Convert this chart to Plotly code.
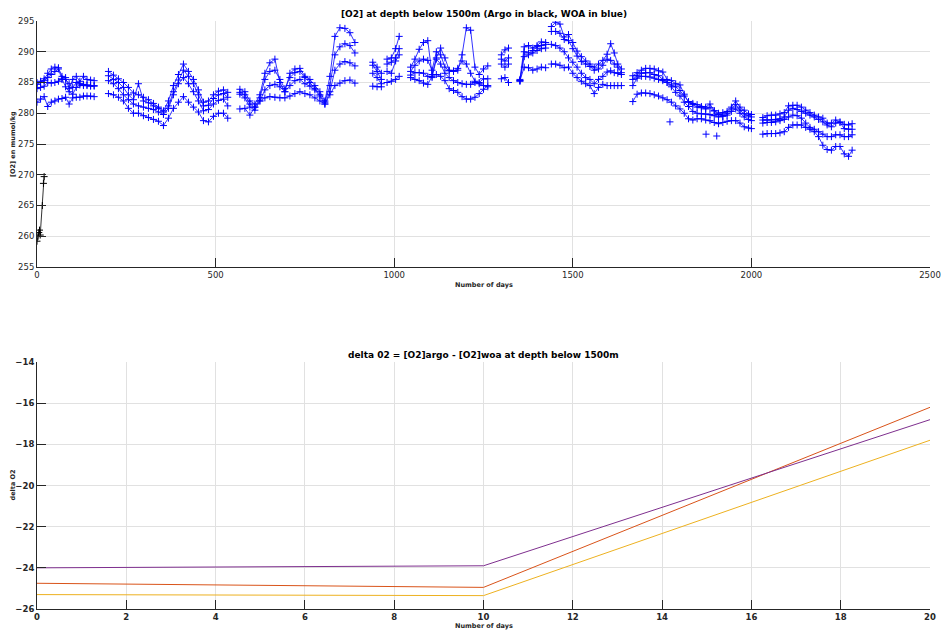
import plotly.graph_objects as go

# ---------------- Top panel data (days, O2 in umol/kg) ----------------
# WOA series (4 depth levels), given as segments separated by gaps
SEG_DAYS = [
    [0, 10, 20, 30, 40, 50, 60, 70, 80, 90, 100, 110, 120, 130, 140, 150, 160],
    [200, 214, 228, 242, 256, 270, 284, 298, 312, 326, 340, 354, 368, 382, 396, 410, 424, 438, 452, 466, 480, 494, 508, 522, 534],
    [568, 582, 596, 610, 624, 638, 652, 666, 680, 694, 708, 722, 736, 750, 764, 778, 792, 806, 820, 834, 848, 862, 876, 890],
    [940, 952, 964],
    [980, 992, 1004, 1014],
    [1046, 1058, 1070, 1082, 1094, 1106, 1118, 1130, 1142, 1154, 1166, 1178, 1190, 1202, 1214, 1226, 1238, 1250, 1262],
    [1300, 1310, 1320],
    [1352, 1364, 1376, 1388, 1400, 1412, 1424],
    [1440, 1452, 1464, 1476, 1488, 1500, 1512, 1524, 1536, 1548, 1560, 1572, 1584, 1596, 1606, 1616, 1626, 1636],
    [1668, 1680, 1692, 1704, 1716, 1728, 1740, 1752, 1764, 1776, 1788, 1800, 1812, 1824, 1836, 1848, 1860, 1872, 1884, 1896, 1908, 1920, 1932, 1944, 1956, 1968, 1980, 1992, 2000],
    [2032, 2044, 2056, 2068, 2080, 2092, 2104, 2116, 2128, 2140, 2152, 2164, 2176, 2188, 2200, 2212, 2224, 2236, 2248, 2260, 2272, 2282],
]

WOA_A = [
    [284.7, 285.0, 285.6, 286.5, 287.2, 287.5, 287.4, 286.0, 285.8, 284.0, 285.5, 286.0, 285.2, 286.0, 285.5, 285.4, 285.3],
    [286.8, 286.2, 285.6, 285.0, 284.2, 283.3, 283.0, 282.6, 282.2, 281.6, 281.0, 280.4, 282.0, 284.5, 286.3, 288.0, 286.8, 285.5, 283.8, 281.8, 282.0, 283.0, 283.6, 283.8, 283.4],
    [283.9, 283.5, 282.0, 281.5, 283.0, 286.5, 288.2, 288.8, 285.0, 283.5, 286.5, 287.2, 287.3, 286.0, 285.5, 284.5, 283.5, 282.0, 286.0, 292.5, 293.9, 293.8, 293.1, 291.5],
    [288.3, 287.5, 286.5],
    [288.8, 289.0, 290.5, 292.5],
    [287.5, 288.8, 290.4, 291.5, 291.8, 286.3, 289.0, 290.6, 289.0, 287.0, 286.9, 287.0, 289.5, 293.9, 293.5, 287.5, 286.3, 287.2, 287.7],
    [289.5, 290.3, 290.6],
    [285.5, 290.8, 291.0, 290.6, 291.0, 291.6, 291.5],
    [294.1, 294.8, 294.5, 292.4, 292.8, 291.5, 290.1, 289.2, 288.5, 288.0, 287.5, 288.0, 288.6, 289.6, 291.3, 289.8, 288.0, 287.2],
    [286.1, 286.6, 287.0, 287.3, 287.3, 287.2, 286.9, 286.7, 285.5, 285.3, 284.8, 284.6, 283.1, 281.8, 281.6, 281.4, 281.1, 281.0, 281.5, 280.4, 280.0, 280.1, 280.3, 281.0, 282.0, 281.0, 280.5, 279.9, 279.8],
    [279.3, 279.6, 279.7, 279.7, 279.9, 280.1, 281.2, 281.3, 281.3, 281.0, 280.5, 280.1, 279.7, 279.4, 279.2, 278.4, 278.4, 278.9, 278.6, 278.2, 278.1, 278.3],
]

WOA_B = [
    [285.0, 285.2, 285.3, 285.8, 286.3, 286.8, 287.2, 285.5, 285.5, 284.8, 284.2, 285.0, 284.8, 284.7, 284.6, 284.5, 284.5],
    [286.1, 285.5, 285.0, 284.2, 283.0, 282.2, 284.8, 282.0, 281.7, 281.2, 280.8, 280.2, 281.2, 283.5, 285.4, 287.0, 286.0, 284.8, 283.0, 281.2, 281.3, 282.4, 283.0, 283.2, 282.6],
    [283.4, 283.0, 281.5, 281.0, 282.5, 285.5, 286.8, 287.0, 285.5, 284.0, 285.8, 286.6, 286.8, 285.8, 285.0, 284.0, 283.0, 281.8, 284.5, 289.5, 290.8, 291.3, 291.0, 289.8],
    [287.8, 286.8, 285.5],
    [288.0, 288.3, 289.0, 290.5],
    [286.8, 287.8, 288.5, 288.8, 288.6, 287.0, 290.0, 289.5, 287.5, 286.9, 286.8, 287.3, 288.5, 288.0, 286.5, 285.2, 285.0, 285.6, 285.6],
    [288.8, 288.5, 289.0],
    [285.3, 290.0, 289.8, 290.2, 290.8, 291.0, 291.2],
    [293.3, 293.3, 293.0, 292.0, 291.8, 290.5, 289.3, 288.4, 288.0, 287.6, 287.0, 287.2, 287.8, 288.8, 288.6, 288.0, 287.5, 286.6],
    [285.5, 286.1, 286.5, 286.6, 286.6, 286.3, 286.1, 285.5, 285.0, 284.6, 284.3, 283.7, 282.8, 281.9, 281.4, 281.0, 280.9, 280.7, 280.9, 280.4, 279.8, 279.6, 280.0, 280.7, 281.4, 280.5, 279.9, 279.6, 279.4],
    [278.9, 278.9, 278.9, 279.0, 279.1, 279.4, 280.5, 280.8, 280.6, 280.3, 280.0, 279.7, 279.4, 279.0, 278.6, 278.1, 277.8, 278.4, 278.5, 277.5, 277.4, 277.4],
]

WOA_C = [
    [284.0, 284.2, 284.4, 285.0, 284.9, 285.0, 285.2, 285.6, 284.3, 283.5, 283.1, 284.2, 284.6, 284.5, 284.5, 284.4, 284.4],
    [285.3, 284.8, 284.0, 283.0, 282.2, 281.5, 281.2, 281.0, 280.8, 280.6, 280.2, 279.8, 280.8, 283.0, 284.8, 285.8, 284.8, 283.5, 282.0, 280.4, 280.6, 281.5, 282.1, 282.3, 281.2],
    [283.1, 282.5, 281.0, 280.5, 282.0, 283.8, 284.5, 284.7, 284.3, 283.5, 284.5, 285.3, 285.5, 284.8, 284.4, 283.8, 282.8, 281.5, 283.5, 287.0, 288.0, 288.4, 288.2, 287.7],
    [286.5, 285.8, 284.8],
    [286.8, 286.5, 288.5, 289.5],
    [286.2, 286.6, 286.6, 286.5, 286.0, 285.8, 288.8, 288.0, 286.5, 285.8, 285.3, 285.0, 284.8, 284.7, 284.7, 285.0, 284.8, 284.5, 284.3],
    [288.0, 287.5, 288.0],
    [285.2, 289.2, 289.5, 289.8, 290.2, 290.5, 290.6],
    [291.2, 291.0, 290.6, 290.0, 289.0, 288.3, 287.5, 286.5, 285.8, 285.5, 284.8, 285.5, 286.0, 286.7, 286.9, 286.6, 286.5, 286.3],
    [284.5, 285.7, 286.0, 286.0, 285.9, 285.7, 285.5, 285.3, 285.0, 284.3, 283.4, 282.8, 281.8, 281.1, 280.3, 280.0, 279.9, 279.9, 279.8, 279.6, 279.4, 279.5, 279.7, 280.3, 280.7, 280.0, 279.4, 279.0, 278.8],
    [278.4, 278.5, 278.5, 278.6, 278.8, 279.0, 279.4, 279.7, 279.6, 279.2, 278.4, 277.7, 277.4, 277.0, 276.6, 276.2, 276.2, 276.5, 276.5, 276.2, 276.2, 276.5],
]

WOA_D = [
    [281.8, 282.3, 282.7, 281.1, 281.8, 282.0, 282.3, 282.4, 282.6, 281.5, 282.5, 282.6, 282.6, 282.8, 282.8, 282.8, 282.7],
    [283.2, 283.0, 282.6, 282.0, 280.8, 280.0, 280.0, 279.6, 279.3, 279.0, 278.7, 278.0, 279.2, 280.8, 281.8, 282.7, 281.8, 281.0, 280.2, 278.8, 278.6, 279.5, 280.0, 280.0, 279.2],
    [280.7, 280.8, 279.7, 281.0, 282.0, 282.5, 282.7, 282.6, 282.5, 282.5, 282.8, 283.2, 283.5, 283.2, 283.0, 282.5, 282.0, 281.5, 283.0, 284.5, 284.9, 285.3, 285.4, 284.9],
    [284.4, 284.3, 284.3],
    [285.0, 285.2, 285.5, 286.0],
    [285.8, 285.5, 285.3, 284.9, 284.7, 286.0, 286.3, 286.0, 285.3, 284.0, 283.7, 283.4, 282.7, 282.3, 282.3, 282.6, 283.2, 283.9, 284.5],
    [285.6, 285.8, 285.0],
    [285.3, 287.5, 287.4, 287.0, 287.2, 287.5, 287.4],
    [288.0, 288.0, 287.8, 287.4, 287.5, 286.5, 285.8, 285.2, 284.8, 284.5, 283.2, 284.2, 284.7, 284.5, 284.5, 284.5, 284.5, 284.5],
    [281.9, 283.1, 283.3, 283.3, 283.2, 283.0, 282.8, 282.5, 282.2, 281.8, 281.2, 280.7, 280.0, 279.1, 278.9, 279.1, 279.1, 278.9, 278.8, 278.5, 278.3, 278.5, 278.7, 278.8, 278.8, 278.4, 277.8, 277.6, 277.5],
    [276.6, 276.7, 276.7, 276.7, 276.8, 277.0, 277.7, 278.1, 278.1, 278.1, 277.7, 277.4, 277.0, 276.2, 274.8, 274.1, 274.0, 274.6, 274.6, 273.4, 273.0, 274.0],
]

OUTLIER_DAYS = [1772, 1873, 1903]
OUTLIER_O2 = [278.6, 276.6, 276.3]

# Argo (black)
ARGO_DAYS = [0, 3, 5, 7, 9, 15, 18, 20]
ARGO_O2 = [259.2, 260.0, 260.6, 261.0, 260.2, 265.0, 268.6, 269.7]

# ---------------- Bottom panel data ----------------
DELTA_DAYS = [0, 10, 20]
DELTA_1 = [-24.75, -24.95, -16.2]   # orange
DELTA_2 = [-25.3, -25.35, -17.8]    # yellow
DELTA_3 = [-24.0, -23.9, -16.8]     # purple

TOP_XTICKS = [0, 500, 1000, 1500, 2000, 2500]
TOP_YTICKS = [255, 260, 265, 270, 275, 280, 285, 290, 295]
BOT_XTICKS = [0, 2, 4, 6, 8, 10, 12, 14, 16, 18, 20]
BOT_YTICKS = [-26, -24, -22, -20, -18, -16, -14]


def flatten(segs):
    out = []
    for i, s in enumerate(segs):
        if i:
            out.append(None)
        out.extend(s)
    return out


days_flat = flatten(SEG_DAYS)

FONT = "DejaVu Sans"
AX = "#262626"
GRID = "#e1e1e1"
BLUE = "#0000ff"

fig = go.Figure()

for series in (WOA_A, WOA_B, WOA_C, WOA_D):
    fig.add_trace(go.Scatter(
        x=days_flat, y=flatten(series), mode="lines+markers",
        line=dict(color=BLUE, width=0.8),
        marker=dict(symbol="cross-thin", size=5, line=dict(color=BLUE, width=1)),
        connectgaps=False, showlegend=False, xaxis="x", yaxis="y"))

fig.add_trace(go.Scatter(
    x=OUTLIER_DAYS, y=OUTLIER_O2, mode="markers",
    marker=dict(symbol="cross-thin", size=5, line=dict(color=BLUE, width=1)),
    showlegend=False, xaxis="x", yaxis="y"))

fig.add_trace(go.Scatter(
    x=ARGO_DAYS, y=ARGO_O2, mode="lines+markers",
    line=dict(color="black", width=0.8),
    marker=dict(symbol="cross-thin", size=5, line=dict(color="black", width=1)),
    showlegend=False, xaxis="x", yaxis="y"))

for vals, col in ((DELTA_1, "#D95319"), (DELTA_2, "#EDB120"), (DELTA_3, "#7E2F8E")):
    fig.add_trace(go.Scatter(
        x=DELTA_DAYS, y=vals, mode="lines", line=dict(color=col, width=1),
        showlegend=False, xaxis="x2", yaxis="y2"))

common_axis = dict(showline=True, linecolor=AX, linewidth=1, ticks="inside", ticklen=9,
                   tickcolor=AX, showgrid=True, gridcolor=GRID, gridwidth=1,
                   zeroline=False, mirror=False, automargin=False)

fig.update_layout(
    width=943, height=631,
    margin=dict(l=37, r=13, t=21, b=22),
    paper_bgcolor="white", plot_bgcolor="white",
    font=dict(family=FONT, color=AX, size=9),
    xaxis=dict(domain=[0, 1], range=[0, 2500], tickvals=TOP_XTICKS, anchor="y",
               tickfont=dict(size=8.5, color=AX), **common_axis),
    yaxis=dict(domain=[0.5816, 1], range=[255, 295], tickvals=TOP_YTICKS, anchor="x",
               tickfont=dict(size=8.5, color=AX), **common_axis),
    xaxis2=dict(domain=[0, 1], range=[0, 20], tickvals=BOT_XTICKS, anchor="y2",
                tickfont=dict(size=8.5, color=AX, weight="bold"), **common_axis),
    yaxis2=dict(domain=[0, 0.42], range=[-26, -14], tickvals=BOT_YTICKS, anchor="x2",
                tickfont=dict(size=8.5, color=AX, weight="bold"), **common_axis),
)

annots = [
    dict(text="<b>[O2] at depth below 1500m (Argo in black, WOA in blue)</b>",
         x=0.5, y=1, xref="paper", yref="paper", xanchor="center", yanchor="bottom",
         showarrow=False, font=dict(size=9, color="black")),
    dict(text="<b>delta 02 = [O2]argo - [O2]woa at depth below 1500m</b>",
         x=0.5, y=0.42, xref="paper", yref="paper", xanchor="center", yanchor="bottom",
         showarrow=False, font=dict(size=9, color="black")),
    dict(text="<b>Number of days</b>", x=0.5, y=0.5816, xref="paper", yref="paper",
         xanchor="center", yanchor="middle", yshift=-18, showarrow=False,
         font=dict(size=6.5, color=AX)),
    dict(text="<b>Number of days</b>", x=0.5, y=0, xref="paper", yref="paper",
         xanchor="center", yanchor="middle", yshift=-17, showarrow=False,
         font=dict(size=6.5, color=AX)),
    dict(text="<b>[O2] en mumol/kg</b>", x=0, y=(0.5816 + 1) / 2, xref="paper", yref="paper",
         xanchor="center", yanchor="middle", xshift=-24, textangle=-90, showarrow=False,
         font=dict(size=6.5, color=AX)),
    dict(text="<b>delta O2</b>", x=0, y=0.21, xref="paper", yref="paper",
         xanchor="center", yanchor="middle", xshift=-24, textangle=-90, showarrow=False,
         font=dict(size=6.5, color=AX)),
]
fig.update_layout(annotations=annots)

fig.write_html("out.html", config={"displayModeBar": False},
               post_script="document.body.style.margin='0';document.body.style.overflow='hidden';")
